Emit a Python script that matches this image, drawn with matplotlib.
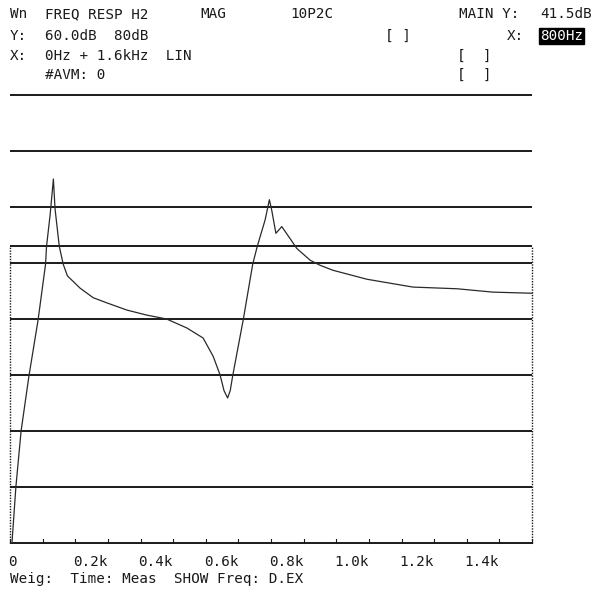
import numpy as np
import matplotlib
matplotlib.use("Agg")
import matplotlib.pyplot as plt

# frequency response trace (Hz, dB)
freq = [6, 18, 34, 58, 86, 109, 112, 123, 133, 138, 151, 163, 176, 215, 255,
        296, 358, 419, 480, 542, 592, 623, 644, 656, 667, 675, 683, 715, 744,
        758, 782, 795, 802, 815, 833, 858, 879, 920, 950, 990, 1094, 1235,
        1370, 1480, 1600]
mag = [-20, -10, 0, 9.8, 19.8, 29.8, 33.0, 38.6, 45.0, 39.7, 33.0, 29.8, 27.7,
       25.5, 23.8, 22.9, 21.6, 20.7, 20.0, 18.4, 16.6, 13.3, 10.0, 7.2, 5.9,
       7.2, 10.0, 19.9, 29.8, 33.0, 37.7, 41.3, 39.5, 35.3, 36.5, 34.4, 32.6,
       30.5, 29.6, 28.7, 27.1, 25.7, 25.4, 24.8, 24.6]

grid_db = [60, 50, 40, 33, 30, 20, 10, 0, -10, -20]
xticks = [0, 200, 400, 600, 800, 1000, 1200, 1400]
xtick_labels = ["0", "0.2k", "0.4k", "0.6k", "0.8k", "1.0k", "1.2k", "1.4k"]

W = 596
fig = plt.figure(figsize=(5.96, 5.96), dpi=100)
ax = fig.add_axes([0, 0, 1, 1])
ax.set_axis_off()

# pixel mapping of the screen: 0 Hz at x=10, 1.6k at x=532; 60 dB at y=95, 10 dB/56 px
sx = 522 / 1600
sy = 5.6
ax.set_xlim(-10 / sx, (W - 10) / sx)
ax.set_ylim(60 - (W - 95) / sy, 60 + 95 / sy)

ink = "#1a1a1a"
ax.hlines(grid_db, 0, 1600, color=ink, lw=1.4)
ax.vlines([0, 1600], -20, 33, color=ink, lw=1.0, linestyles=(0, (1, 1)))
for t in range(0, 1601, 100):
    ax.plot([t, t], [-20, -19.3], color=ink, lw=0.8)
ax.plot(freq, mag, color="#2a2a2a", lw=0.9)


def txt(x, y, s, **kw):
    fig.text(x / W, 1 - y / W, s, family="DejaVu Sans Mono", fontsize=10.3,
             va="center", ha="left", color=ink, **kw)


txt(10, 14, "Wn")
txt(45, 14, "FREQ RESP H2")
txt(200, 14, "MAG")
txt(290, 14, "10P2C")
txt(459, 14, "MAIN Y:")
txt(540, 14, "41.5dB")
txt(10, 36, "Y:")
txt(45, 36, "60.0dB  80dB")
txt(385, 36, "[ ]")
txt(507, 36, "X:")
fig.text(540 / W, 1 - 36 / W, "800Hz", family="DejaVu Sans Mono",
         fontsize=10.3, va="center", ha="left", color="white",
         bbox=dict(boxstyle="square,pad=0.05", fc="black", ec="black"))
txt(10, 56, "X:")
txt(45, 56, "0Hz + 1.6kHz  LIN")
txt(457, 56, "[  ]")
txt(45, 75, "#AVM: 0")
txt(457, 75, "[  ]")

for t, lab in zip(xticks, xtick_labels):
    txt(10 + t * sx - 2, 562, lab)
txt(10, 579, "Weig:  Time: Meas  SHOW Freq: D.EX")

fig.savefig("out.png", dpi=100, facecolor="white")
